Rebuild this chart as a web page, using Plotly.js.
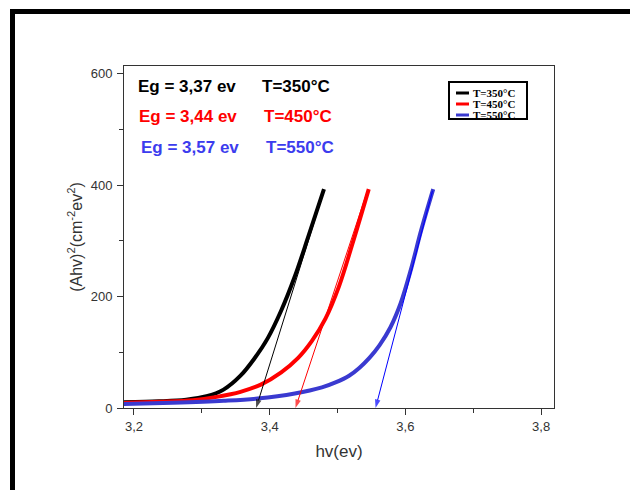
<!DOCTYPE html>
<html>
<head>
<meta charset="utf-8">
<script src="https://cdn.plot.ly/plotly-3.0.1.min.js"></script>
<style>html,body{margin:0;padding:0;background:#fff;}#chart{width:630px;height:490px;}</style>
</head>
<body>
<div id="chart"></div>
<script>
// ---- data ----
const seriesNames = ['T=350°C', 'T=450°C', 'T=550°C'];
const x350 = [3.180, 3.237, 3.277, 3.307, 3.332, 3.357, 3.377, 3.397, 3.417, 3.437, 3.457, 3.480];
const y350 = [10, 12, 15, 21, 33, 58, 88, 125, 175, 236, 308, 393];
const x450 = [3.180, 3.237, 3.287, 3.322, 3.357, 3.387, 3.417, 3.442, 3.462, 3.482, 3.502, 3.522, 3.546];
const y450 = [9, 11, 14, 20, 29, 42, 64, 90, 120, 160, 218, 295, 393];
const x550 = [3.180, 3.257, 3.332, 3.382, 3.437, 3.477, 3.497, 3.517, 3.532, 3.547, 3.562, 3.578, 3.593, 3.608, 3.623, 3.641];
const y550 = [7, 9.5, 13, 17, 26, 37, 46, 58, 72, 90, 113, 145, 188, 248, 318, 393];
// tangent (extrapolation) lines: intercept on hv axis and upper point
const egIntercept = [3.380, 3.438, 3.556];
const tangentTopX = [3.480, 3.544, 3.640];
const tangentTopY = [390, 390, 390];
const egLabels = ['Eg = 3,37 ev', 'Eg = 3,44 ev', 'Eg = 3,57 ev'];
const tempLabels = ['T=350°C', 'T=450°C', 'T=550°C'];
const xTickVals = [3.2, 3.4, 3.6, 3.8];
const yTickVals = [0, 200, 400, 600];

// ---- styles ----
const curveColors = ['#000000', '#ff0000', '#3a3ad0'];
const arrowColors = ['#000000', '#ff0000', '#0000ff'];
const textColors = ['#000000', '#ff0000', '#3c3cee'];

const xs = [x350, x450, x550];
const ys = [y350, y450, y550];
const traces = xs.map((x, i) => ({
  x: x, y: ys[i], name: seriesNames[i], type: 'scatter', mode: 'lines',
  line: {color: curveColors[i], width: 4, shape: 'spline', smoothing: 1},
  showlegend: false
}));
// tangent lines with arrow heads at the hv-axis intercept
egIntercept.forEach((eg, i) => {
  traces.push({
    x: [tangentTopX[i], eg], y: [tangentTopY[i], 0], type: 'scatter', mode: 'lines+markers',
    line: {color: arrowColors[i], width: 1},
    marker: {symbol: ['circle', 'arrow'], size: [0, 9], angleref: 'previous', color: arrowColors[i], line: {width: 0}},
    cliponaxis: false, showlegend: false, hoverinfo: 'skip'
  });
});

// pixel helpers for paper coordinates (plot area 124..554 x 66..408)
const L = 124, R = 554, T = 66, B = 408;
const px = v => (v - L) / (R - L);
const py = v => (B - v) / (B - T);

const annotations = [];
// Eg / T labels
const egX = [136, 137, 139];
const tX = [260, 262, 264];
const lineY = [86, 116, 147];
egLabels.forEach((lab, i) => {
  annotations.push({
    x: px(egX[i]), y: py(lineY[i]), xref: 'paper', yref: 'paper',
    xanchor: 'left', yanchor: 'middle', showarrow: false, text: '<b>' + lab + '</b>',
    font: {family: 'Liberation Sans, Arial, sans-serif', size: 17, color: textColors[i]}
  });
  annotations.push({
    x: px(tX[i]), y: py(lineY[i]), xref: 'paper', yref: 'paper',
    xanchor: 'left', yanchor: 'middle', showarrow: false, text: '<b>' + tempLabels[i] + '</b>',
    font: {family: 'Liberation Sans, Arial, sans-serif', size: 17, color: textColors[i]}
  });
});

// manual compact legend
const shapes = [];
const legY = [93, 104, 115];
shapes.push({type: 'rect', xref: 'paper', yref: 'paper', x0: px(449), x1: px(527), y0: py(82), y1: py(119),
  line: {color: '#000', width: 2}, fillcolor: 'rgba(0,0,0,0)'});
seriesNames.forEach((n, i) => {
  shapes.push({type: 'line', xref: 'paper', yref: 'paper', x0: px(456), x1: px(469), y0: py(legY[i]), y1: py(legY[i]),
    line: {color: curveColors[i], width: 3}});
  annotations.push({x: px(471), y: py(legY[i]), xref: 'paper', yref: 'paper', xanchor: 'left', yanchor: 'middle',
    showarrow: false, text: '<b>' + n + '</b>',
    font: {family: 'Liberation Serif, Times New Roman, serif', size: 11, color: '#000'}});
});
// outer thick frame
shapes.push({type: 'rect', xref: 'paper', yref: 'paper', x0: px(12.5), x1: px(660), y0: py(11.5), y1: py(520),
  line: {color: '#000', width: 5}, fillcolor: 'rgba(0,0,0,0)'});

const axisFont = {family: 'Liberation Sans, Arial, sans-serif', size: 13, color: '#333'};
const layout = {
  width: 630, height: 490,
  margin: {l: L, r: 630 - R, t: T, b: 490 - B, pad: 0},
  paper_bgcolor: '#fff', plot_bgcolor: '#fff',
  separators: ',.',
  showlegend: false,
  xaxis: {
    range: [3.1853, 3.819], tickmode: 'array', tickvals: xTickVals, tickformat: '.1f',
    ticks: 'outside', ticklen: 6, tickwidth: 1, tickcolor: '#333',
    minor: {dtick: 0.1, tick0: 3.2, ticks: 'outside', ticklen: 4, tickcolor: '#333', showgrid: false},
    showgrid: false, zeroline: false, showline: true, mirror: true, linecolor: '#333', linewidth: 1,
    tickfont: axisFont,
    title: {text: 'hv(ev)', font: {family: 'Liberation Sans, Arial, sans-serif', size: 17, color: '#333'}, standoff: 12}
  },
  yaxis: {
    range: [0, 614], tickmode: 'array', tickvals: yTickVals,
    ticks: 'outside', ticklen: 6, tickwidth: 1, tickcolor: '#333',
    minor: {dtick: 100, tick0: 0, ticks: 'outside', ticklen: 4, tickcolor: '#333', showgrid: false},
    showgrid: false, zeroline: false, showline: true, mirror: true, linecolor: '#333', linewidth: 1,
    tickfont: axisFont, ticklabelstandoff: 2,
    title: {text: '(Ahv)<sup>2</sup>(cm<sup>-2</sup>ev<sup>2</sup>)', font: {family: 'Liberation Sans, Arial, sans-serif', size: 16, color: '#333'}, standoff: 4}
  },
  annotations: annotations,
  shapes: shapes
};

Plotly.newPlot('chart', traces, layout, {staticPlot: true, displayModeBar: false});
</script>
</body>
</html>
